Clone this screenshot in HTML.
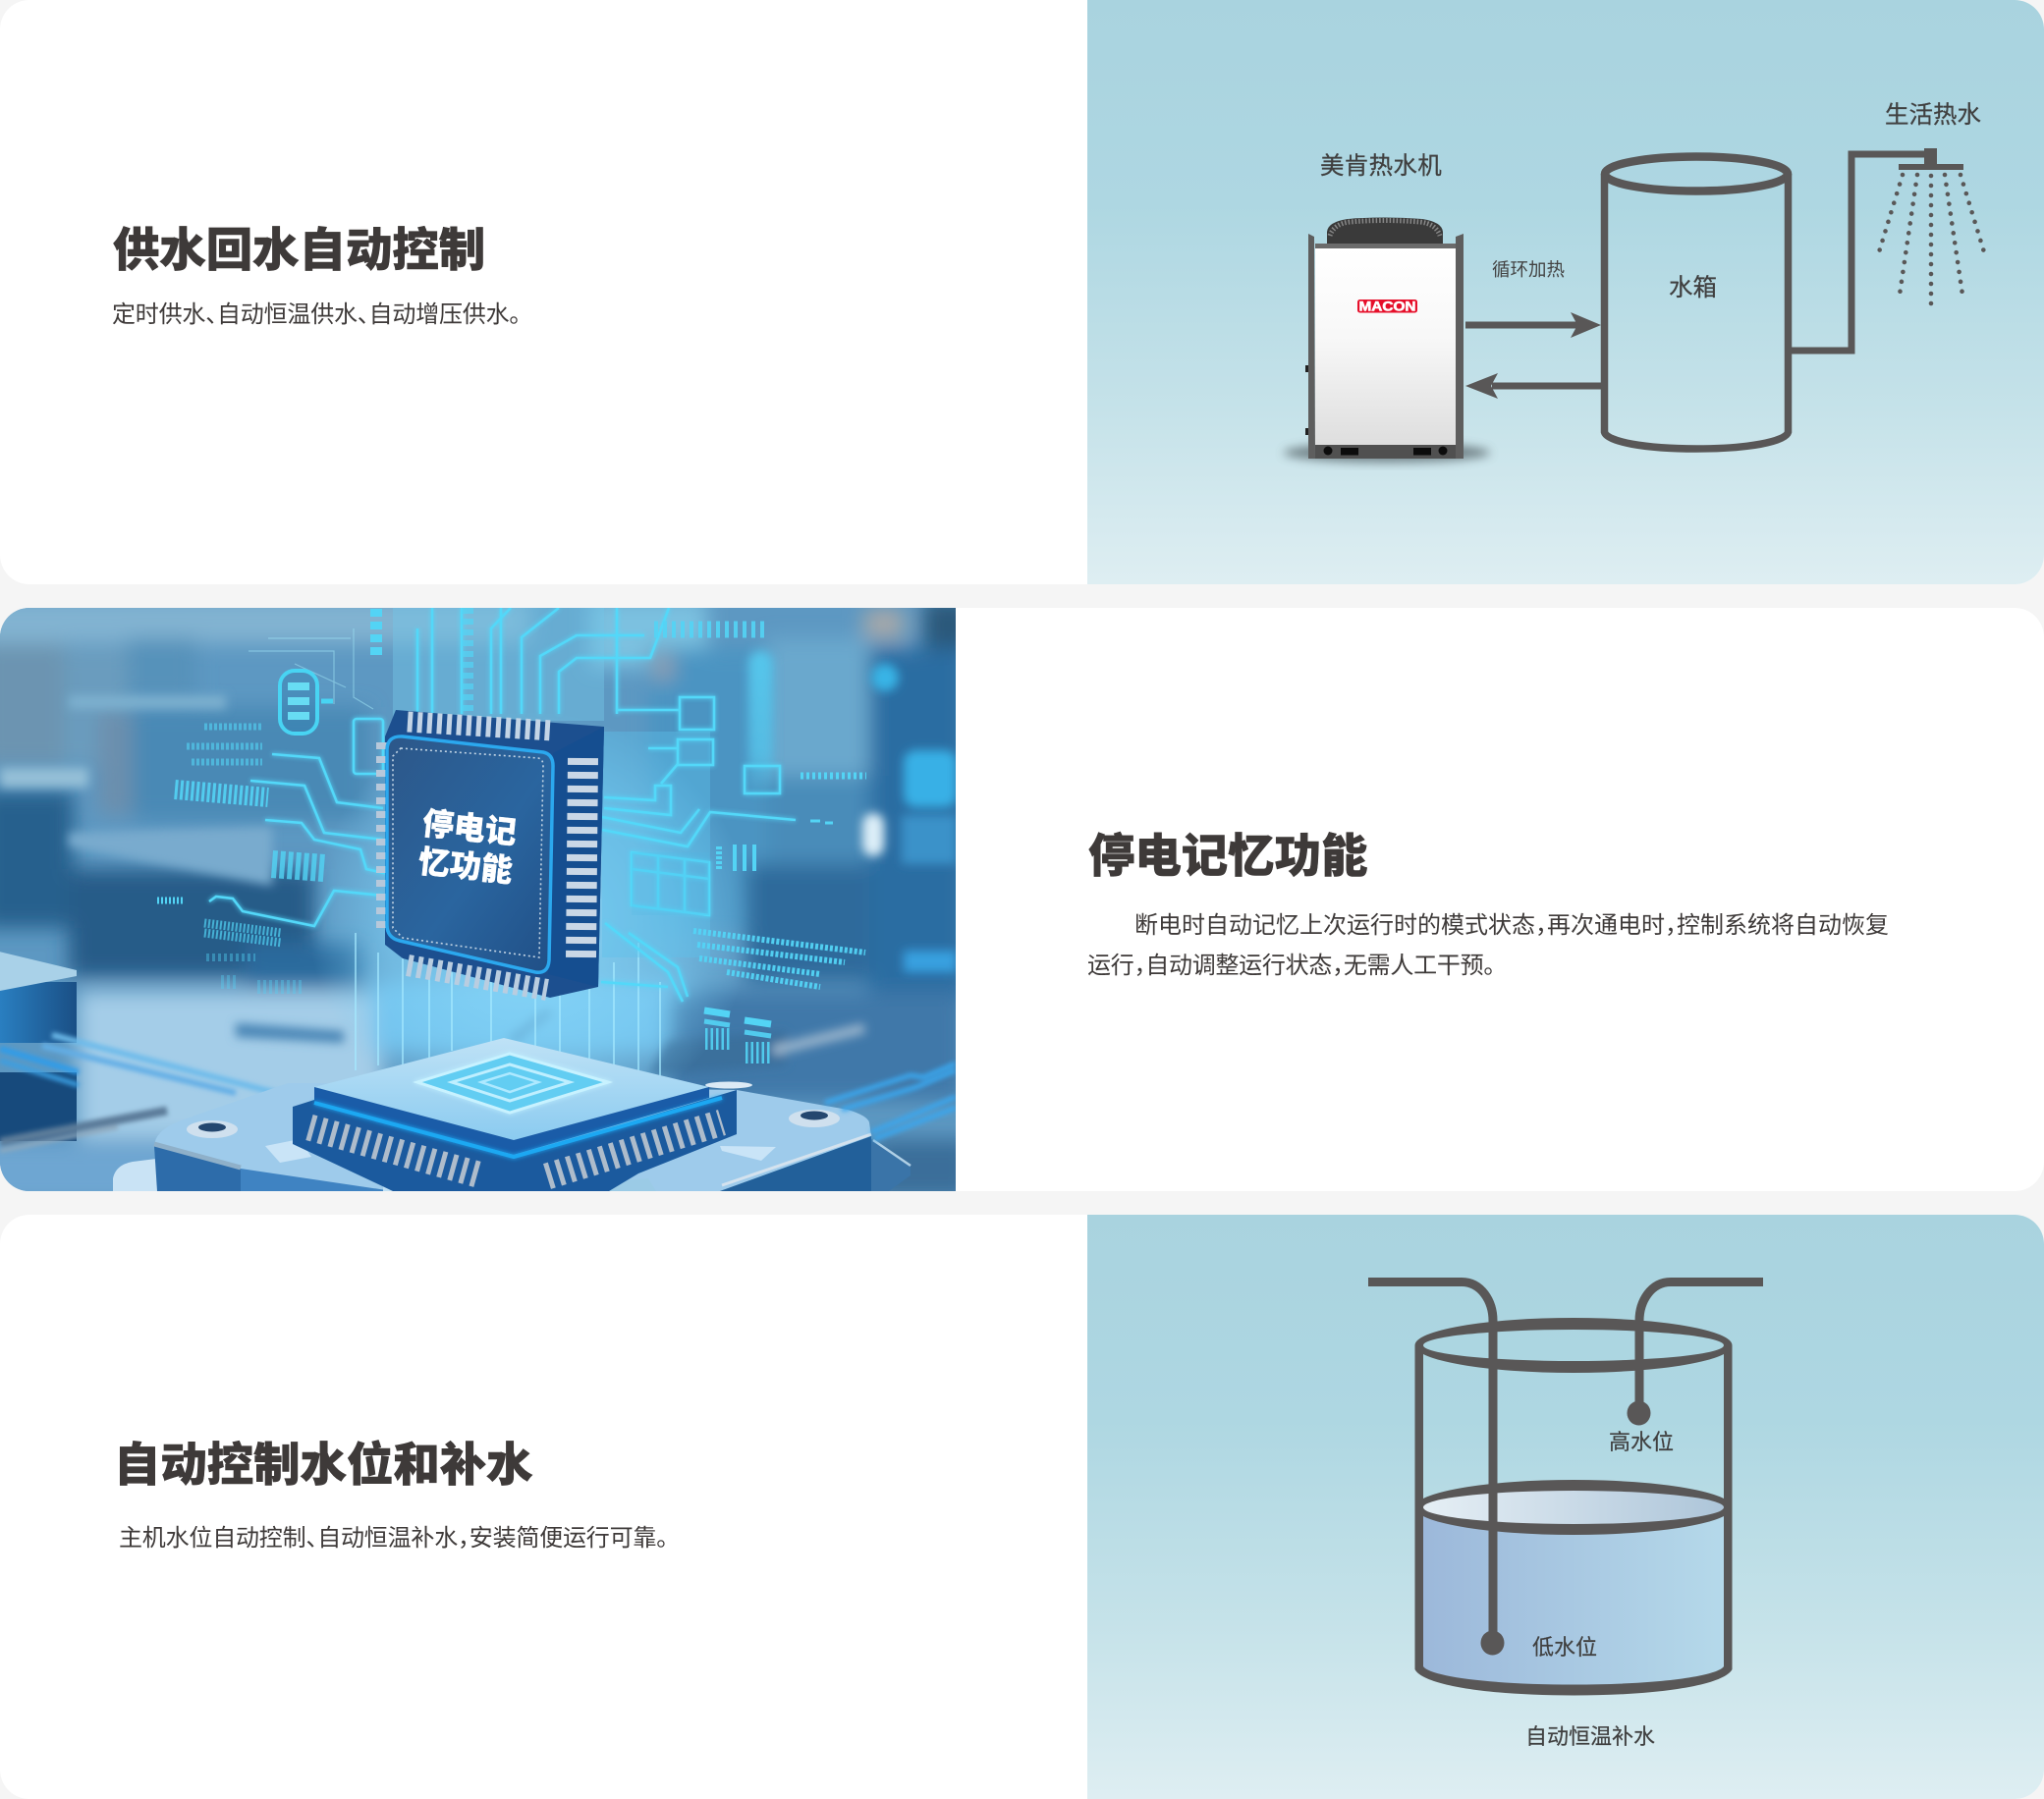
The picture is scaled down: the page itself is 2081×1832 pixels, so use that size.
<!DOCTYPE html>
<html lang="zh">
<head>
<meta charset="utf-8">
<title>Macon</title>
<style>
html,body{margin:0;padding:0;background:#f5f5f5;width:2081px;height:1832px;overflow:hidden}
svg{display:block}
text{font-family:"Liberation Sans","Noto Sans CJK SC",sans-serif;font-feature-settings:"halt";fill:#3e3a39}
.h{font-size:47.4px;font-weight:900;stroke:#3e3a39;stroke-width:.6px}
.p{font-size:24px;letter-spacing:-.2px}
.l{font-size:24.5px;fill:#404040;stroke:#404040;stroke-width:.25px}
.m{font-size:22px;fill:#404040;stroke:#404040;stroke-width:.2px}
</style>
</head>
<body>
<svg width="2081" height="1832" viewBox="0 0 2081 1832" xmlns="http://www.w3.org/2000/svg">
<defs>
<linearGradient id="bg" x1="0" y1="0" x2="0" y2="1">
<stop offset="0" stop-color="#a9d3df"/><stop offset=".35" stop-color="#aed7e2"/><stop offset=".7" stop-color="#c5e2e9"/><stop offset="1" stop-color="#deeef2"/>
</linearGradient>
<linearGradient id="panel" x1="0" y1="0" x2="0" y2="1">
<stop offset="0" stop-color="#fff"/><stop offset=".45" stop-color="#f8f8f8"/><stop offset="1" stop-color="#dedede"/>
</linearGradient>
<linearGradient id="water" x1="0" y1="0" x2="1" y2="0">
<stop offset="0" stop-color="#9cb8da"/><stop offset="1" stop-color="#b5d9ea"/>
</linearGradient>
<linearGradient id="surf" x1="0" y1="0" x2="1" y2="0">
<stop offset="0" stop-color="#e6eff5"/><stop offset="1" stop-color="#adc5d9"/>
</linearGradient>
<linearGradient id="face" x1="0" y1="0" x2="1" y2="1">
<stop offset="0" stop-color="#2c5789"/><stop offset=".55" stop-color="#2a659f"/><stop offset="1" stop-color="#204f86"/>
</linearGradient>
<linearGradient id="topchip" x1="0" y1="0" x2="0" y2="1">
<stop offset="0" stop-color="#bfe2f6"/><stop offset="1" stop-color="#8bcbf0"/>
</linearGradient>
<linearGradient id="boxside" x1="0" y1="0" x2="1" y2="0">
<stop offset="0" stop-color="#2a80c2"/><stop offset="1" stop-color="#1a4f85"/>
</linearGradient>
<linearGradient id="pillfade" x1="0" y1="0" x2="0" y2="1">
<stop offset="0" stop-color="#55c6ec"/><stop offset=".7" stop-color="#55c6ec" stop-opacity=".75"/><stop offset="1" stop-color="#55c6ec" stop-opacity="0"/>
</linearGradient>
<radialGradient id="haze"><stop offset="0" stop-color="#8fdcfb" stop-opacity=".95"/><stop offset=".65" stop-color="#7fd0f5" stop-opacity=".6"/><stop offset="1" stop-color="#7fd0f5" stop-opacity="0"/></radialGradient>
<filter id="b20" x="-40%" y="-40%" width="180%" height="180%"><feGaussianBlur stdDeviation="10"/></filter>
<filter id="b6" x="-40%" y="-40%" width="180%" height="180%"><feGaussianBlur stdDeviation="5"/></filter>
<filter id="b3" x="-20%" y="-20%" width="140%" height="140%"><feGaussianBlur stdDeviation="2.5"/></filter>
<filter id="glow" x="-10%" y="-10%" width="120%" height="120%"><feGaussianBlur stdDeviation="2.5" result="g"/><feMerge><feMergeNode in="g"/><feMergeNode in="SourceGraphic"/></feMerge></filter>
<clipPath id="imgclip"><path d="M30 619H973V1213H30A30 30 0 0 1 0 1183V649A30 30 0 0 1 30 619Z"/></clipPath>
</defs>

<!-- Cards -->
<rect x="0" y="0" width="2081" height="595" rx="30" fill="#fff"/>
<rect x="0" y="619" width="2081" height="594" rx="30" fill="#fff"/>
<rect x="0" y="1237" width="2081" height="595" rx="30" fill="#fff"/>

<!-- Row 1 text -->
<text class="h" x="115" y="271">供水回水自动控制</text>
<text class="p" x="114" y="328">定时供水、自动恒温供水、自动增压供水。</text>

<!-- Row 1 panel -->
<path d="M1107 0H2051A30 30 0 0 1 2081 30V565A30 30 0 0 1 2051 595H1107Z" fill="url(#bg)"/>
<text class="l" x="1344" y="177" style="letter-spacing:.3px">美肯热水机</text>
<text class="l" x="1919" y="125">生活热水</text>
<text class="l" x="1699" y="301">水箱</text>
<text x="1519" y="281" style="font-size:18.5px;fill:#444">循环加热</text>

<!-- Heat pump -->
<ellipse cx="1412" cy="461" rx="105" ry="10" fill="#5b6a70" opacity=".8" filter="url(#b6)"/>
<path d="M1351 248V236Q1352 226 1372 223Q1410 220 1448 223Q1468 226 1469 236V248Z" fill="#3a3a3a"/>
<path d="M1354 240Q1358 228 1374 226Q1410 223 1446 226Q1462 228 1466 240" fill="none" stroke="#a8a8a8" stroke-width="5" stroke-dasharray="1.5 2" opacity=".7"/>
<path d="M1332 238L1338 241L1339 467H1332Z" fill="#5e5e5e"/>
<path d="M1482 241L1490 238V467H1482Z" fill="#5e5e5e"/>
<rect x="1339" y="248" width="143" height="5" fill="#6b6b6b"/>
<rect x="1339" y="253" width="143" height="200" fill="url(#panel)"/>
<rect x="1339" y="453" width="143" height="14" fill="#505050"/>
<circle cx="1352" cy="459" r="4.5" fill="#0c0c0c"/><circle cx="1469" cy="459" r="4.5" fill="#0c0c0c"/>
<rect x="1365" y="456" width="18" height="7.5" fill="#0c0c0c"/><rect x="1439" y="456" width="18" height="7.5" fill="#0c0c0c"/>
<rect x="1329" y="372" width="3" height="7" fill="#222"/><rect x="1329" y="436" width="3" height="7" fill="#222"/>
<rect x="1382" y="305" width="61" height="13.5" rx="2.5" fill="#e60f2a"/>
<text x="1412.5" y="316.5" text-anchor="middle" textLength="58" lengthAdjust="spacingAndGlyphs" style="font-family:'Liberation Sans',sans-serif;font-weight:700;font-size:13.5px;fill:#fff;stroke:#fff;stroke-width:.6px">MACON</text>

<!-- Arrows -->
<path d="M1492 331H1606" stroke="#595757" stroke-width="7" fill="none"/>
<path d="M1599 318L1630 331L1599 344L1606 331Z" fill="#595757"/>
<path d="M1630 393H1519" stroke="#595757" stroke-width="7" fill="none"/>
<path d="M1492 393L1525 380L1518 393L1525 406Z" fill="#595757"/>

<!-- Tank -->
<g fill="none" stroke="#595757">
<ellipse cx="1727" cy="177" rx="93" ry="17.5" stroke-width="8.5"/>
<path d="M1633.5 177V440C1636 450 1675 457 1727 457S1818 450 1820.5 440V177" stroke-width="7.5"/>
<path d="M1823 357H1885V157H1965" stroke-width="7"/>
</g>
<rect x="1959" y="151" width="13" height="17" fill="#595757"/>
<rect x="1933" y="167" width="66" height="6" fill="#595757"/>
<g fill="none" stroke="#595757" stroke-width="4.6" stroke-linecap="round" stroke-dasharray="0 10">
<path d="M1937 178L1912 260"/><path d="M1952 178L1934 300"/><path d="M1966 179V310"/><path d="M1980 178L1998 300"/><path d="M1996 178L2021 260"/>
</g>

<!-- Row 2 image -->
<g clip-path="url(#imgclip)">
<rect x="0" y="619" width="973" height="594" fill="#5d98c2"/>
<g filter="url(#b20)">
<rect x="-20" y="610" width="560" height="45" fill="#82b3d1"/>
<rect x="-20" y="655" width="85" height="125" fill="#6c94b1"/>
<rect x="65" y="660" width="65" height="120" fill="#6a9cbe"/>
<rect x="130" y="650" width="70" height="62" fill="#5692ba"/>
<rect x="135" y="720" width="240" height="115" fill="#4a89b5"/>
<rect x="100" y="725" width="35" height="105" fill="#6c8fad"/>
<rect x="-20" y="805" width="95" height="140" fill="#27608d"/>
<rect x="70" y="885" width="250" height="110" fill="#285c88"/>
<rect x="600" y="610" width="120" height="70" fill="#7cc1e0"/>
<rect x="660" y="660" width="120" height="290" fill="#4c94c2"/>
<rect x="780" y="650" width="105" height="140" fill="#6aa8cd"/>
<rect x="780" y="790" width="105" height="90" fill="#4a8cb9"/>
<rect x="760" y="880" width="130" height="120" fill="#2f6a9b"/>
<rect x="885" y="660" width="100" height="360" fill="#2a6da2"/>
<rect x="940" y="610" width="50" height="50" fill="#2a587a"/>
<rect x="880" y="620" width="40" height="30" fill="#a7a8a9"/>
<rect x="665" y="665" width="20" height="28" fill="#8f9fb0"/>
<rect x="80" y="1010" width="310" height="150" fill="#a4cde8"/>
<rect x="250" y="960" width="120" height="45" fill="#2c6a9d"/>
<rect x="380" y="1000" width="320" height="70" fill="#6fc0ec"/>
<rect x="680" y="1010" width="300" height="110" fill="#3f78a9"/>
<rect x="-20" y="1165" width="200" height="60" fill="#6ea6d2"/>
<rect x="890" y="1160" width="100" height="60" fill="#3a6e9a"/>
</g>
<g filter="url(#b6)">
<path d="M70 848L277 842L277 902L70 862Z" fill="#79abce"/>
<rect x="0" y="782" width="90" height="20" fill="#94bfd7"/>
<rect x="70" y="708" width="160" height="14" fill="#7db0cf"/>
<path d="M240 1042L350 1050L350 1062L240 1056Z" fill="#4a85b5"/>
<path d="M560 1030L520 1060" stroke="#4a85b5" stroke-width="10"/>
<path d="M680 1060L800 1050L800 1085L660 1095Z" fill="#3b6f9c"/>
<path d="M787 1070L880 1047" stroke="#9bb6cd" stroke-width="10"/>
<rect x="762" y="663" width="25" height="150" rx="12" fill="url(#pillfade)"/>
<rect x="878" y="828" width="22" height="44" rx="11" fill="#dceef8"/>
<circle cx="901" cy="690" r="14" fill="#38b4e6"/>
<rect x="920" y="764" width="54" height="58" rx="12" fill="#38b0e6"/>
<rect x="918" y="830" width="56" height="50" fill="#3a92c9"/>
<rect x="920" y="968" width="54" height="22" fill="#37a0e0"/>
</g>
<!-- left box -->
<rect x="-2" y="1000" width="80" height="62" fill="url(#boxside)"/>
<rect x="-2" y="1092" width="80" height="70" fill="#174a7c"/>
<path d="M-5 968L78 988L78 994L-5 1010Z" fill="#a9d1e8"/>
<g filter="url(#b3)" fill="none">
<path d="M0 1068L80 1092" stroke="#2e9cea" stroke-width="6"/>
<path d="M0 1080L80 1105" stroke="#3a9fe2" stroke-width="5"/>
<path d="M53 1054L300 1118" stroke="#6dbbeb" stroke-width="6"/>
<path d="M43 1065L240 1113" stroke="#62aee6" stroke-width="6"/>
<path d="M0 1163L170 1131" stroke="#5b7c9a" stroke-width="9"/>
<path d="M0 1172L120 1148" stroke="#8fa9bd" stroke-width="4"/>
</g>
<ellipse cx="540" cy="940" rx="225" ry="215" fill="url(#haze)"/>
<!-- beams -->
<g stroke="#a6eaff" stroke-width="1.8" opacity=".75" fill="none">
<path d="M362 950V1090"/><path d="M385 970V1085"/><path d="M410 975V1085"/><path d="M437 990V1080"/><path d="M460 990V1070"/><path d="M500 1000V1070"/><path d="M545 1000V1075"/><path d="M570 1000V1075"/><path d="M600 990V1090"/><path d="M625 980V1090"/><path d="M650 960V1100"/><path d="M672 1000V1100"/>
</g>
<path d="M362 960V1100" stroke="#44d4fa" stroke-width="3" filter="url(#glow)"/>
<!-- translucent chip surroundings -->
<rect x="613" y="745" width="110" height="230" fill="#5cc1ec" opacity=".4"/>
<rect x="400" y="619" width="215" height="115" fill="#74c5e6" opacity=".45"/>
<!-- Circuit traces -->
<g fill="none" stroke="#52d8f9" stroke-width="2.6" filter="url(#glow)">
<path d="M277 768L325 772L343 817L390 823"/>
<path d="M255 795L310 800L330 848L390 855"/>
<path d="M270 835L307 838L320 855L367 865L373 885L395 890"/>
<path d="M213 918L220 913L237 915L247 928L320 943L340 907L390 912"/>
<path d="M613 845L700 862L723 827L810 835"/>
<path d="M613 832L693 848L712 824"/>
<path d="M615 812L667 815V800H683V830L615 823"/>
<path d="M628 723H692M660 762H690M690 778L673 798"/>
<path d="M531 727V649L569 619"/>
<path d="M550 727V668L587 647H656"/>
<path d="M569 727V684L587 670H662L681 619"/>
<path d="M440 727V619"/><path d="M470 727V619"/><path d="M500 727V640L520 619"/><path d="M510 727V619"/><path d="M425 725V640"/>
<path d="M628 619V727"/>
<path d="M616 940L680 990L695 1020"/><path d="M640 950L690 985L700 1015"/><path d="M612 1000L680 1005"/>
<path d="M643 868L722 878V932L643 922Z"/>
<path d="M643 885L722 895M670 872V926M697 875V930"/>
<rect x="692" y="710" width="35" height="33"/>
<rect x="690" y="753" width="36" height="26"/>
<rect x="360" y="732" width="30" height="56" rx="3"/>
<rect x="758" y="780" width="36" height="28"/>
</g>
<g fill="none" stroke="#9fe4f5" stroke-width="1.2" opacity=".55">
<path d="M253 663H340V717M273 650H357"/>
<path d="M300 676L352 700M360 640V710L380 722"/>
</g>
<rect x="285" y="683" width="38" height="64" rx="15" fill="#2c7fb2" fill-opacity=".35" stroke="#48d4f3" stroke-width="4"/>
<path d="M293 699H315M293 714H315M293 729H315" stroke="#67dcf3" stroke-width="8" fill="none"/>
<path d="M327 714H339" stroke="#48d4f3" stroke-width="5"/>
<rect x="643" y="868" width="79" height="64" fill="#4fb8e6" opacity=".2"/>
<g fill="none" stroke="#53d4f5">
<path d="M178 804L273 812" stroke-width="20" stroke-dasharray="3 2.5" opacity=".9"/>
<path d="M666 641H778" stroke-width="17" stroke-dasharray="4 5" opacity=".9"/>
<path d="M383 620V672" stroke-width="12" stroke-dasharray="8 5"/>
<path d="M476 619V727" stroke-width="12" stroke-dasharray="6 5" opacity=".7"/>
<path d="M748 860V887M758 860V887M768 860V887" stroke-width="4"/>
<path d="M732 862V885" stroke-width="6" stroke-dasharray="3 2"/>
<path d="M277 880L330 884" stroke-width="28" stroke-dasharray="5 3" opacity=".8"/>
<path d="M160 917H187" stroke-width="7" stroke-dasharray="2 2"/>
<path d="M208 940L287 950M208 950L287 960" stroke-width="9" stroke-dasharray="2 2" opacity=".7"/>
<path d="M210 975H260" stroke-width="8" stroke-dasharray="3 3" opacity=".4"/>
<path d="M225 1000H240M262 1005H310" stroke-width="14" stroke-dasharray="3 3" opacity=".35"/>
<path d="M706 948L881 970M710 962L860 980M712 976L835 992M740 990L835 1005" stroke-width="6" stroke-dasharray="3 2" opacity=".95"/>
<path d="M208 740H267M190 760H267M195 776H267" stroke-width="7" stroke-dasharray="3 2" opacity=".6"/>
<path d="M815 790H882" stroke-width="7" stroke-dasharray="3 3"/>
<path d="M825 836H835M840 838H848" stroke-width="3"/>
<path d="M717 1029L743 1033M758 1039L785 1043" stroke-width="7"/>
<path d="M717 1040L743 1044M758 1051L785 1055" stroke-width="5" opacity=".9"/>
<path d="M718 1058H743M759 1072H785" stroke-width="22" stroke-dasharray="2.5 3" opacity=".9"/>
</g>
<!-- Main chip -->
<path d="M403 723L615 740L609 1005L560 1016L410 976L392 962V750Z" fill="#1c4f8f"/>
<path d="M563 767L615 740L609 1005L558 992Z" fill="#154e90"/>
<path d="M415 735L563 744" stroke="#c4d5e6" stroke-width="21" stroke-dasharray="5 5" fill="none"/>
<path d="M415 983L557 1008" stroke="#b9cde0" stroke-width="22" stroke-dasharray="5 5" fill="none"/>
<path d="M593.5 772L591.5 975" stroke="#c9d7e6" stroke-width="31" stroke-dasharray="7 7" fill="none"/>
<path d="M389 756V950" stroke="#b7c8da" stroke-width="12" stroke-dasharray="7 7" fill="none"/>
<path d="M410 750L553 766Q563 768 563 780L559 978Q558 992 545 990L407 958Q394 955 394 942V764Q394 749 410 750Z" fill="url(#face)" stroke="#2ba8ee" stroke-width="3.5"/>
<path d="M408 762L548 772Q553 773 553 780L549 975L410 955L400 945V770Z" fill="none" stroke="#c2d4e4" stroke-width="1.6" stroke-dasharray="2 3"/>
<g transform="rotate(6 475 862)">
<text x="476" y="854" text-anchor="middle" style="font-size:32px;font-weight:900;fill:#fff;stroke:#fff;stroke-width:.4px">停电记</text>
<text x="476" y="893" text-anchor="middle" style="font-size:32px;font-weight:900;fill:#fff;stroke:#fff;stroke-width:.4px">忆功能</text>
</g>
<!-- Bottom chip base -->
<path d="M115 1213V1200Q118 1186 135 1183L175 1178L175 1213Z" fill="#c9e3f5"/>
<path d="M157 1167Q158 1150 187 1140L293 1103H320L750 1110L863 1130Q883 1136 885 1143L887 1157L733 1213H300L243 1190Z" fill="#9ecbeb"/>
<path d="M157 1167L245 1190V1213H160Z" fill="#2d6caa"/>
<path d="M157 1165L245 1189" stroke="#8fb0c9" stroke-width="5" fill="none"/>
<path d="M245 1190L400 1213H245Z" fill="#3f83c2"/>
<path d="M733 1213L887 1157V1213Z" fill="#22609a"/>
<path d="M735 1207L887 1155" stroke="#d4e2ee" stroke-width="3" fill="none"/>
<path d="M887 1160L927 1187V1197L905 1213H887Z" fill="#3a74a8"/>
<path d="M889 1161L927 1187" stroke="#b0d0e6" stroke-width="2.5" fill="none"/>
<ellipse cx="216" cy="1150" rx="26" ry="9" fill="#cfe0ee"/><ellipse cx="216" cy="1148" rx="14" ry="4.5" fill="#24476f"/>
<ellipse cx="829" cy="1139" rx="26" ry="9" fill="#cfe0ee"/><ellipse cx="829" cy="1136" rx="14" ry="4.5" fill="#24476f"/>
<path d="M270 1167L305 1160L317 1178L285 1184Z" fill="#c9e4f7"/>
<path d="M733 1167L790 1168L775 1182L735 1172Z" fill="#c9e4f7"/>
<path d="M390 1203L440 1200L470 1213H390Z" fill="#bfe0f5"/>
<path d="M600 1205L660 1200L668 1213H600Z" fill="#9bcbe6"/>
<!-- chip dark + pins -->
<path d="M298 1127L320 1120L523 1178L750 1110L750 1155L650 1195L620 1213H400L298 1165Z" fill="#1b5a9e"/>
<path d="M315 1148L490 1197" stroke="#aebccb" stroke-width="27" stroke-dasharray="5 6.5" fill="none"/>
<path d="M557 1198L735 1143" stroke="#aebccb" stroke-width="27" stroke-dasharray="5 6.5" fill="none"/>
<path d="M320 1107L513 1057L722 1107L523 1161Z" fill="url(#topchip)"/>
<path d="M320 1107L523 1161L722 1107V1118L523 1176L320 1123Z" fill="#1a5ca8"/>
<path d="M320 1123L523 1178L735 1118" fill="none" stroke="#1fa8f2" stroke-width="4" filter="url(#glow)"/>
<path d="M425 1102L519 1073L619 1102L519 1133Z" fill="#62cdf2" stroke="#c8f2ff" stroke-width="3" filter="url(#glow)"/>
<path d="M460 1102L519 1084L580 1102L519 1121Z" fill="none" stroke="#bfefff" stroke-width="3"/>
<path d="M490 1102L519 1093L548 1102L519 1112Z" fill="none" stroke="#aee9ff" stroke-width="2.5"/>
<ellipse cx="742" cy="1105" rx="24" ry="3.5" fill="#dceaf5"/>
<!-- bottom right tubes -->
<g fill="none" stroke="#3ba6ec" stroke-width="5" filter="url(#b3)">
<path d="M840 1123L927 1095L940 1097L973 1083"/>
<path d="M857 1130L933 1107L973 1090"/>
<path d="M887 1153L973 1117"/>
<path d="M890 1160L973 1128"/>
</g>
</g>

<!-- Row 2 text -->
<text class="h" x="1108" y="888">停电记忆功能</text>
<text class="p" x="1155" y="950" style="letter-spacing:0">断电时自动记忆上次运行时的模式状态，再次通电时，控制系统将自动恢复</text>
<text class="p" x="1107" y="991" style="letter-spacing:-.26px">运行，自动调整运行状态，无需人工干预。</text>

<!-- Row 3 text -->
<text class="h" x="116" y="1508">自动控制水位和补水</text>
<text class="p" x="121" y="1574">主机水位自动控制、自动恒温补水，安装简便运行可靠。</text>

<!-- Row 3 panel -->
<path d="M1107 1237H2051A30 30 0 0 1 2081 1267V1802A30 30 0 0 1 2051 1832H1107Z" fill="url(#bg)"/>
<!-- water -->
<path d="M1447 1535A155 17 0 0 0 1757 1535V1700C1750 1708 1690 1720 1602 1720S1454 1708 1447 1700Z" fill="url(#water)"/>
<ellipse cx="1602" cy="1535.5" rx="155" ry="18" fill="url(#surf)"/>
<!-- cylinder -->
<g fill="#595757" fill-rule="evenodd">
<path d="M1440.5 1370A161.5 28 0 1 0 1763.5 1370A161.5 28 0 1 0 1440.5 1370ZM1449 1370A153 16 0 1 1 1755 1370A153 16 0 1 1 1449 1370Z"/>
<path d="M1440.5 1535A161.5 28 0 1 0 1763.5 1535A161.5 28 0 1 0 1440.5 1535ZM1449 1535A153 17 0 1 1 1755 1535A153 17 0 1 1 1449 1535Z"/>
<path d="M1440.5 1370H1449V1697C1456 1707 1515 1715.5 1602 1715.5S1748 1707 1755 1697V1370H1763.5V1700C1755 1716 1690 1726.5 1602 1726.5S1449 1716 1440.5 1700Z"/>
</g>
<g fill="none" stroke="#595757" stroke-width="9">
<path d="M1393 1305.5H1488C1508 1305.5 1520 1325 1520 1345V1664"/>
<path d="M1795 1305.5H1701C1681 1305.5 1669 1325 1669 1345V1430"/>
</g>
<ellipse cx="1519.5" cy="1673" rx="12" ry="12.5" fill="#595757"/>
<ellipse cx="1668.5" cy="1439" rx="12" ry="12.5" fill="#595757"/>
<text class="m" x="1638" y="1476">高水位</text>
<text class="m" x="1560" y="1685">低水位</text>
<text class="m" x="1553" y="1776">自动恒温补水</text>
</svg>
</body>
</html>
